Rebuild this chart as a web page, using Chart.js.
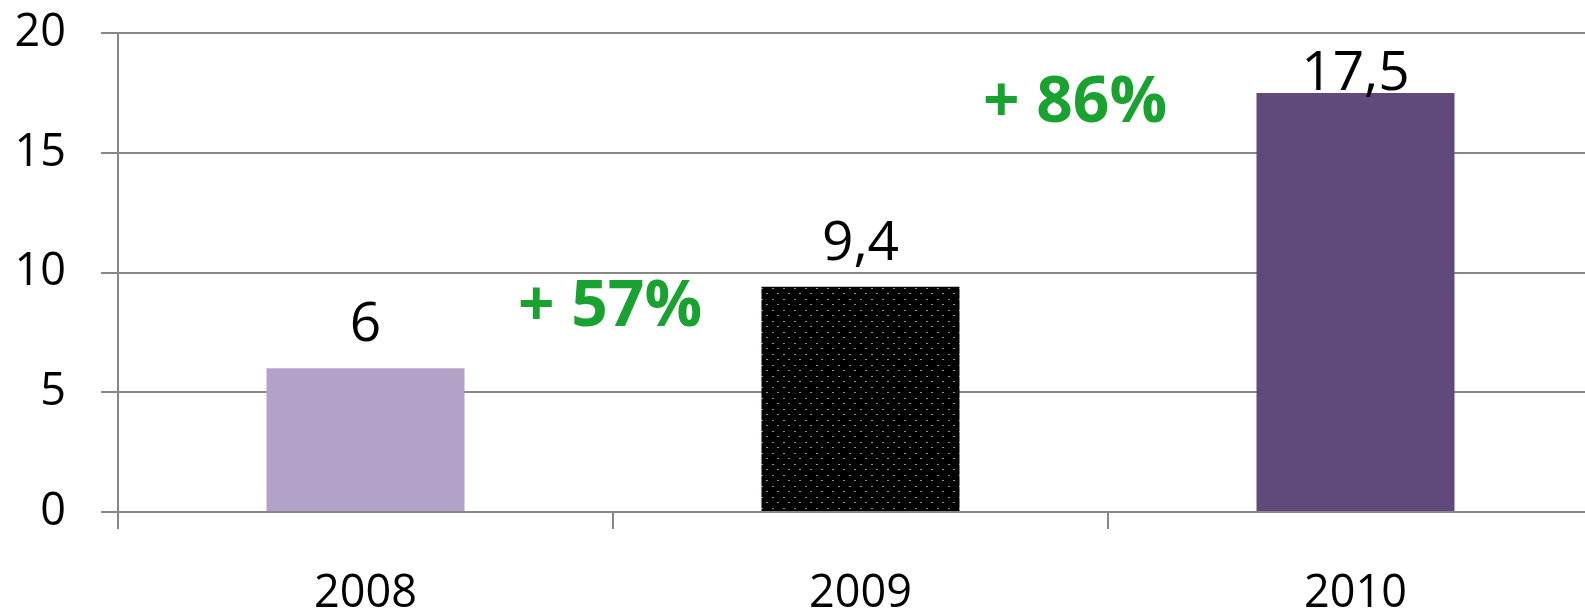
<!DOCTYPE html>
<html>
<head>
<meta charset="utf-8">
<script src="https://cdn.jsdelivr.net/npm/chart.js@4/dist/chart.umd.min.js"></script>
<style>
  html, body { margin: 0; padding: 0; overflow: hidden; background: #fff; }
  #wrap { position: absolute; left: 0; top: 0; width: 1603px; height: 614px; }
</style>
</head>
<body>
<div id="wrap"><canvas id="growthChart" width="1603" height="614"></canvas></div>
<script>
// Data
const years = ['2008', '2009', '2010'];
const values = [6, 9.4, 17.5];
const yTicks = [0, 5, 10, 15, 20];

const gridGray = '#878787';
const fontFamily = '"Open Sans", "Liberation Sans", sans-serif';

// dotted fill for the middle bar
function makeDots() {
    const c = document.createElement('canvas');
    c.width = 11;
    c.height = 11;
    const g = c.getContext('2d');
    g.fillStyle = '#000';
    g.fillRect(0, 0, 11, 11);
    g.fillStyle = '#8f9670';
    g.fillRect(2, 2, 2, 1);
    g.fillRect(7, 7, 2, 1);
    return g.createPattern(c, 'repeat');
}

const ctx = document.getElementById('growthChart');

// value labels above bars + growth percentages between bars
const labelsPlugin = {
    id: 'labelsPlugin',
    afterDatasetsDraw(chart, args, opts) {
        const g = chart.ctx;
        const meta = chart.getDatasetMeta(0);
        const y = chart.scales.y;
        const area = chart.chartArea;
        g.save();
        g.fillStyle = '#000';
        g.font = '55px ' + fontFamily;
        g.textAlign = 'center';
        g.textBaseline = 'alphabetic';
        meta.data.forEach((bar, i) => {
            const top = y.getPixelForValue(values[i]);
            const base = Math.max(top - 27, area.top + 57);
            g.fillText(String(values[i]).replace('.', ','), bar.x, base);
        });

        g.fillStyle = '#19a22f';
        g.font = 'bold 64px ' + fontFamily;
        for (let i = 0; i < values.length - 1; i++) {
            const pct = Math.round((values[i + 1] / values[i] - 1) * 100);
            const x = (meta.data[i].x + meta.data[i + 1].x) / 2 + opts.dx[i];
            const base = y.getPixelForValue(values[i + 1]) + opts.dy[i];
            g.fillText('+ ' + pct + '%', x, base);
        }
        g.restore();
    }
};

new Chart(ctx, {
    type: 'bar',
    data: {
        labels: years,
        datasets: [{
            data: values,
            backgroundColor: ['#b3a2c7', makeDots(), '#604a7b'],
            borderWidth: 0,
            barPercentage: 0.4,
            categoryPercentage: 1
        }]
    },
    options: {
        responsive: false,
        devicePixelRatio: 1,
        animation: false,
        layout: { padding: { top: 33, left: 0, right: 0, bottom: 0 } },
        plugins: {
            legend: { display: false },
            tooltip: { enabled: false },
            labelsPlugin: { dx: [-3, -33], dy: [39, 29] }
        },
        scales: {
            x: {
                grid: {
                    drawOnChartArea: false,
                    drawTicks: true,
                    tickLength: 17,
                    color: gridGray,
                    lineWidth: 2
                },
                border: { display: true, color: gridGray, width: 2 },
                ticks: {
                    color: '#000',
                    padding: 38,
                    font: { family: fontFamily, size: 45 }
                },
                afterFit(axis) {
                    axis.height = 102;
                    axis.paddingLeft = 0;
                    axis.paddingRight = 0;
                }
            },
            y: {
                min: 0,
                max: 20,
                afterBuildTicks(axis) { axis.ticks = yTicks.map(v => ({ value: v })); },
                grid: {
                    color: gridGray,
                    lineWidth: 2,
                    tickLength: 17
                },
                border: { display: true, color: gridGray, width: 2 },
                ticks: {
                    color: '#000',
                    padding: 35,
                    font: { family: fontFamily, size: 45 }
                },
                afterFit(axis) {
                    axis.width = 118;
                    axis.paddingTop = 0;
                    axis.paddingBottom = 0;
                }
            }
        }
    },
    plugins: [labelsPlugin]
});
</script>
</body>
</html>
